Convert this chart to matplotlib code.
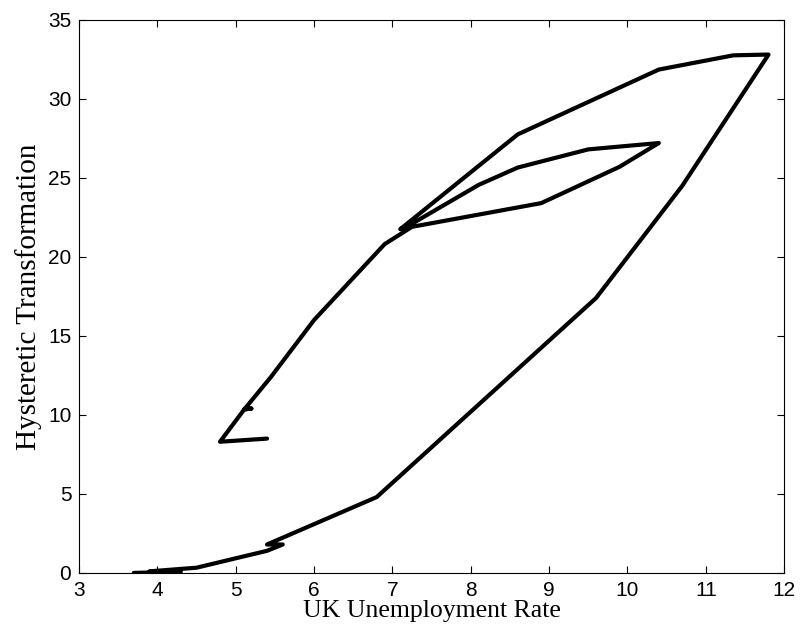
import matplotlib
matplotlib.use("Agg")
import matplotlib.pyplot as plt

# unemployment rate vs. hysteretic transformation, in time order
unemployment = [3.7, 4.3, 3.9, 4.5, 5.4, 5.6, 5.4, 6.8, 9.6, 10.7, 11.8,
                11.35, 10.4, 8.6, 7.1, 7.2, 8.1, 8.6, 9.5, 10.4, 9.9, 8.9,
                7.25, 6.9, 6.3, 6.0, 5.45, 5.11, 5.2, 5.11, 4.8, 5.4]
hysteretic = [0.0, 0.08, 0.1, 0.33, 1.4, 1.8, 1.8, 4.8, 17.4, 24.5, 32.8,
              32.75, 31.85, 27.75, 21.75, 21.95, 24.55, 25.65, 26.8, 27.2, 25.7, 23.4,
              21.9, 20.8, 17.6, 16.0, 12.4, 10.35, 10.4, 10.35, 8.3, 8.5]

xticks = list(range(3, 13))
yticks = list(range(0, 36, 5))

fig = plt.figure(figsize=(8.01, 6.38), dpi=100)
ax = fig.add_axes([0.0986, 0.102, 0.8804, 0.867])

ax.plot(unemployment, hysteretic, color="black", linewidth=3.0,
        solid_joinstyle="round", solid_capstyle="round")

ax.set_xlim(3, 12)
ax.set_ylim(0, 35)
ax.set_xticks(xticks)
ax.set_yticks(yticks)
ax.tick_params(direction="in", top=True, right=True, length=5, width=0.8,
               labelsize=15)
ax.tick_params(axis="x", pad=6)
ax.tick_params(axis="y", pad=5.5)
for lab in ax.get_xticklabels() + ax.get_yticklabels():
    lab.set_family("Liberation Sans")
for sp in ax.spines.values():
    sp.set_linewidth(0.8)

ax.set_xlabel("UK Unemployment Rate", family="Liberation Serif", fontsize=18.5, labelpad=0)
ax.set_ylabel("Hysteretic Transformation", family="Liberation Serif", fontsize=21, labelpad=4)

fig.savefig("out.png", dpi=100)
